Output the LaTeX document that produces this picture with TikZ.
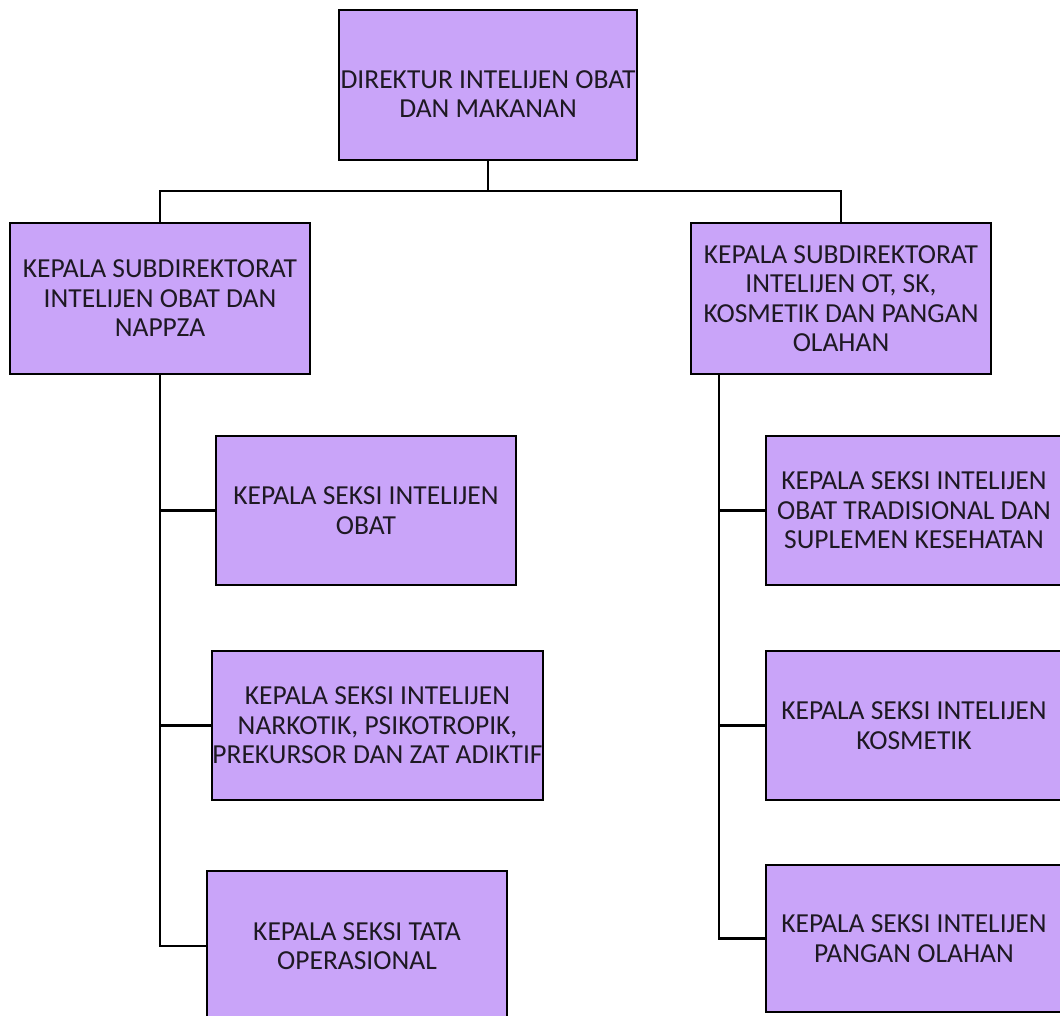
\documentclass[tikz,border=0pt]{standalone}
\usepackage{fontspec}
\setmainfont{Carlito}
\usepackage{tikz}
\definecolor{boxfill}{RGB}{201,164,249}
\definecolor{ink}{RGB}{30,25,35}
\tikzset{
    box/.style={draw=black, line width=2.8pt, fill=boxfill, text=ink, align=center,
        inner sep=0pt, font=\fontsize{27.5}{29.5}\selectfont},
    link/.style={line width=2.6pt, black}
}

\begin{document}
\begin{tikzpicture}[x=1pt, y=-1pt]
    \useasboundingbox (0, 0) rectangle (1060, 1016);
    \clip (0, 0) rectangle (1060, 1016);
    % direktur
    \node[box, minimum width=298, minimum height=150](dir)at(488, 85){\rule{0pt}{36pt}DIREKTUR INTELIJEN OBAT\\DAN MAKANAN};
    % subdirektorat
    \node[box, minimum width=300, minimum height=151](subA)at(160, 298.5){KEPALA SUBDIREKTORAT\\INTELIJEN OBAT DAN\\NAPPZA};
    \node[box, minimum width=300, minimum height=151](subB)at(841, 298.5){KEPALA SUBDIREKTORAT\\INTELIJEN OT, SK,\\KOSMETIK DAN PANGAN\\OLAHAN};
    % seksi kiri
    \node[box, minimum width=300, minimum height=149](sekA1)at(366, 510.5){KEPALA SEKSI INTELIJEN\\OBAT};
    \node[box, minimum width=331, minimum height=149](sekA2)at(377.5, 725.5){KEPALA SEKSI INTELIJEN\\NARKOTIK, PSIKOTROPIK,\\PREKURSOR DAN ZAT ADIKTIF};
    \node[box, minimum width=300, minimum height=150](sekA3)at(357, 946){KEPALA SEKSI TATA\\OPERASIONAL};
    % seksi kanan
    \node[box, minimum width=296, minimum height=149](sekB1)at(914, 510.5){KEPALA SEKSI INTELIJEN\\OBAT TRADISIONAL DAN\\SUPLEMEN KESEHATAN};
    \node[box, minimum width=296, minimum height=149](sekB2)at(914, 725.5){KEPALA SEKSI INTELIJEN\\KOSMETIK};
    \node[box, minimum width=296, minimum height=147](sekB3)at(914, 938.5){KEPALA SEKSI INTELIJEN\\PANGAN OLAHAN};
    % garis
    \coordinate(bar)at(488, 191);
    \draw[link](dir.south)--(bar);
    \draw[link](bar)-|(subA.north);
    \draw[link](bar)-|(subB.north);
    \foreach \n in {sekA1, sekA2, sekA3}
        \draw[link](subA.south)|-(\n.west);
    \foreach \n in {sekB1, sekB2, sekB3}
        \draw[link]([xshift=-122pt]subB.south)|-(\n.west);
\end{tikzpicture}
\end{document}
